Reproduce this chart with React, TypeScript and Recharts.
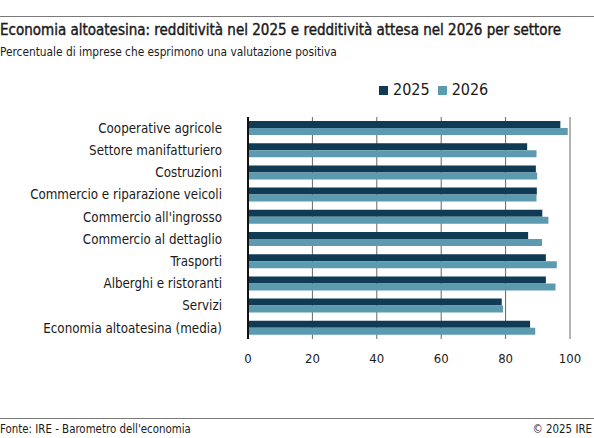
import { BarChart, Bar, XAxis, YAxis, CartesianGrid } from "recharts";

// Sector labels, top to bottom
const sectors = [
  "Cooperative agricole",
  "Settore manifatturiero",
  "Costruzioni",
  "Commercio e riparazione veicoli",
  "Commercio all'ingrosso",
  "Commercio al dettaglio",
  "Trasporti",
  "Alberghi e ristoranti",
  "Servizi",
  "Economia altoatesina (media)",
];

// % of firms with a positive assessment
const values2025 = [97, 86.7, 89.4, 89.7, 91.4, 87, 92.5, 92.5, 78.8, 87.6];
const values2026 = [99.3, 89.6, 89.8, 89.6, 93.3, 91.3, 95.9, 95.5, 79.2, 89.2];

const xTicks = [0, 20, 40, 60, 80, 100];

const seriesKeys = ["v2025", "v2026"];
const seriesNames = ["2025", "2026"];

const DARK = "#0f3c54";
const LIGHT = "#5c9ab0";
const COLORS = [DARK, LIGHT];
const FONT = "'DejaVu Sans Condensed', 'Liberation Sans Narrow', sans-serif";
const INK = "#1a1a1a";

const data = sectors.map((name, i) => ({
  name,
  v2025: values2025[i],
  v2026: values2026[i],
}));

// legend drawn in html so it doesn't push the plot area down
function LegendRow() {
  return (
    <div style={{ position: "absolute", top: 81, left: 379, display: "flex", alignItems: "center", fontSize: 16, lineHeight: "18px" }}>
      {seriesNames.map((n, i) => (
        <div key={n} style={{ display: "flex", alignItems: "center", marginRight: 8 }}>
          <span style={{ display: "inline-block", width: 9, height: 9, background: COLORS[i], marginRight: 5 }} />
          <span>{n}</span>
        </div>
      ))}
    </div>
  );
}

export default function App() {
  return (
    <div
      style={{
        position: "relative",
        width: 594,
        height: 438,
        background: "#fff",
        fontFamily: FONT,
        color: INK,
        overflow: "hidden",
      }}
    >
      <style>{`body{margin:0}`}</style>
      <div style={{ position: "absolute", top: 16, left: 0, width: 594, height: 1, background: "#7a7a7a" }} />
      <div
        style={{
          position: "absolute",
          top: 22,
          left: 0,
          fontSize: 15,
          lineHeight: "16px",
          WebkitTextStroke: "0.4px " + INK,
          whiteSpace: "nowrap",
        }}
      >
        Economia altoatesina: redditività nel 2025 e redditività attesa nel 2026 per settore
      </div>
      <div style={{ position: "absolute", top: 46, left: 0, fontSize: 11.8, lineHeight: "12px", whiteSpace: "nowrap" }}>
        Percentuale di imprese che esprimono una valutazione positiva
      </div>

      <div style={{ position: "absolute", top: 0, left: 0 }}>
        <BarChart
          width={594}
          height={438}
          data={data}
          layout="vertical"
          margin={{ top: 117, right: 24, bottom: 69, left: 8 }}
          barGap={0}
        >
          <CartesianGrid horizontal={false} stroke="#666" />
          <XAxis
            type="number"
            domain={[0, 100]}
            ticks={xTicks}
            axisLine={false}
            tickLine={false}
            tickSize={0}
            tickMargin={15}
            height={30}
            tick={{ fontSize: 13, fill: INK, fontFamily: FONT }}
          />
          <YAxis
            type="category"
            dataKey="name"
            width={240}
            axisLine={{ stroke: "#111", strokeWidth: 2 }}
            tickLine={false}
            tickSize={0}
            tickMargin={26}
            interval={0}
            tick={{ fontSize: 13.25, fill: INK, fontFamily: FONT }}
          />
          {seriesKeys.map((k, i) => (
            <Bar key={k} dataKey={k} name={seriesNames[i]} fill={COLORS[i]} barSize={7} isAnimationActive={false} />
          ))}
        </BarChart>
      </div>

      <LegendRow />

      <div style={{ position: "absolute", top: 418, left: 0, width: 594, height: 1, background: "#7a7a7a" }} />
      <div style={{ position: "absolute", top: 423, left: 0, fontSize: 11.4, lineHeight: "12px", whiteSpace: "nowrap" }}>
        Fonte: IRE - Barometro dell'economia
      </div>
      <div style={{ position: "absolute", top: 423, right: 2, fontSize: 11.4, lineHeight: "12px", whiteSpace: "nowrap" }}>
        © 2025 IRE
      </div>
    </div>
  );
}
